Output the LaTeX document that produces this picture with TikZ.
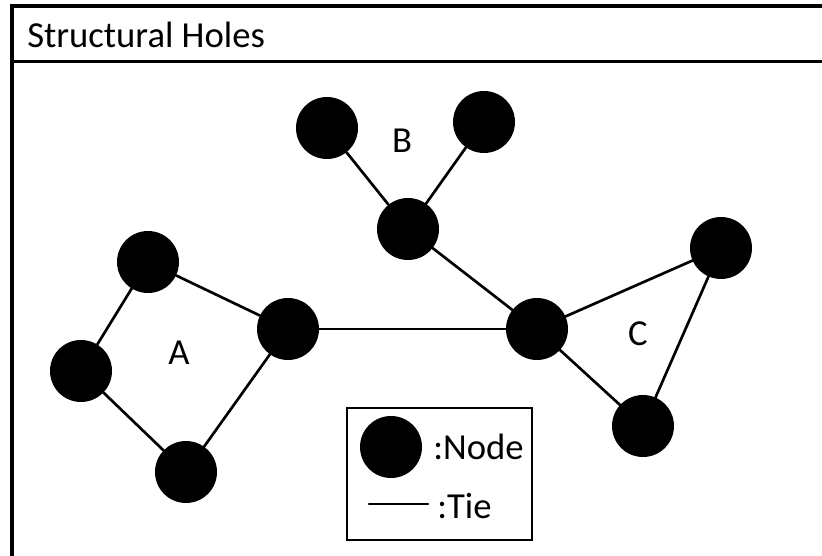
\documentclass[tikz,border=0pt]{standalone}
\usepackage{fontspec}
\setmainfont{Carlito}
\usepackage{xcolor}
\usepackage{tikz}
\usetikzlibrary{positioning}
\definecolor{holeink}{HTML}{000000}
\definecolor{holepaper}{HTML}{FFFFFF}

\begin{document}
\begin{tikzpicture}[x=.75pt,y=-.75pt,line cap=round,
    actor/.style={circle,fill=holeink,inner sep=0pt,minimum size=46.5pt},
    tie/.style={draw=holeink,line width=2pt},
    lbl/.style={font=\fontsize{27.5}{32}\selectfont,inner sep=0pt,text=holeink}]
  \useasboundingbox (0,0) rectangle (822,556);
  \fill[holepaper] (0,0) rectangle (822,556);

  % outer frame and title bar, running off the right and bottom edge
  \begin{scope}
    \clip (0,0) rectangle (822,556);
    \draw[holeink,line width=2.3pt] (12,6) rectangle (850,590);
    \draw[holeink,line width=2.3pt] (12,61.5) -- (850,61.5);
  \end{scope}
  \node[lbl,anchor=west] (title) at (27,35) {Structural Holes};

  % cluster A
  \node[actor] (a1) at (148,262) {};
  \node[actor] (a2) at (288,329) {};
  \node[actor] (a3) at (81,371) {};
  \node[actor] (a4) at (186,472) {};
  \node[lbl] (labA) at (179,353) {A};

  % cluster B
  \node[actor] (b1) at (327,128) {};
  \node[actor] (b2) at (484,122) {};
  \node[actor] (b3) at (408,229) {};
  \node[lbl] (labB) at (402,141) {B};

  % cluster C
  \node[actor] (c1) at (537,329) {};
  \node[actor] (c2) at (721,248) {};
  \node[actor] (c3) at (643,426) {};
  \node[lbl] (labC) at (638,334) {C};

  \foreach \u/\v in {a1/a2,a1/a3,a3/a4,a4/a2,b1/b3,b2/b3,b3/c1,a2/c1,c1/c2,c2/c3,c1/c3}
    \draw[tie] (\u) -- (\v);

  % key
  \node[draw=holeink,line width=1.8pt,inner sep=0pt,
    minimum width=138.75pt,minimum height=99pt] (key) at (439.5,474) {};
  \node[actor] (keynode) at (391,447) {};
  \node[lbl,anchor=west] (keynodetxt) at (433,447) {:Node};
  \coordinate (tiea) at (369,504);
  \coordinate (tieb) at (428,504);
  \draw[tie] (tiea) -- (tieb);
  \node[lbl,anchor=west] (keytietxt) at (437,506) {:Tie};
\end{tikzpicture}
\end{document}
